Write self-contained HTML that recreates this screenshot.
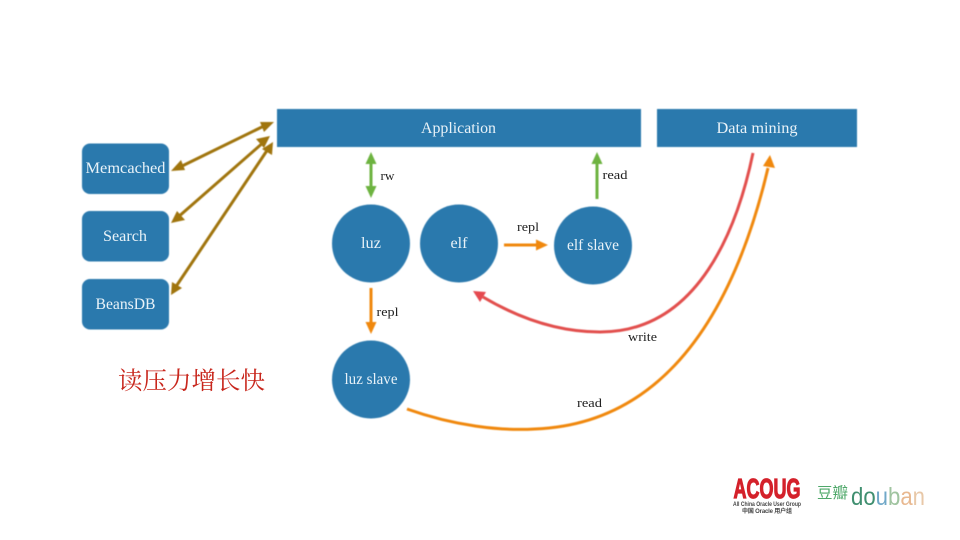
<!DOCTYPE html>
<html><head><meta charset="utf-8"><style>
html,body{margin:0;padding:0;background:#fff;width:960px;height:540px;overflow:hidden}
svg{display:block;font-family:"Liberation Serif","Noto Serif CJK SC",serif}
.w{fill:#e8f2f8;font-size:15.5px;text-anchor:middle}
.k{fill:#222;font-size:12.5px;text-anchor:middle}
.b{fill:#2b79ad}
</style></head><body>
<svg width="960" height="540" viewBox="0 0 960 540" xmlns="http://www.w3.org/2000/svg">
<defs>
<filter id="bl" x="-10%" y="-10%" width="120%" height="120%"><feGaussianBlur stdDeviation="0.4"/></filter>
<filter id="t" x="-10%" y="-30%" width="120%" height="160%"><feGaussianBlur stdDeviation="0.3"/></filter>
</defs>
<g filter="url(#bl)">
<rect class="b" x="82" y="143.500" width="87" height="50.500" rx="8"/>
<rect class="b" x="82" y="211" width="87" height="50.500" rx="8"/>
<rect class="b" x="82" y="279" width="87" height="50.500" rx="8"/>
<rect class="b" x="277" y="109" width="364" height="38"/>
<rect class="b" x="657" y="109" width="200" height="38"/>
<circle class="b" cx="371" cy="243.500" r="39"/>
<circle class="b" cx="459" cy="243.500" r="39"/>
<circle class="b" cx="593" cy="245.500" r="39"/>
<circle class="b" cx="371" cy="379.500" r="39"/>

<g stroke="#a0750f" stroke-width="3" fill="none">
<line x1="178" y1="168" x2="266" y2="125"/>
<line x1="177" y1="218" x2="265" y2="141"/>
<line x1="175" y1="288" x2="268" y2="149"/>
</g>
<g fill="#a0750f">
<polygon points="171,171 181,160 185,170"/>
<polygon points="274,122 264,132 260,122"/>
<polygon points="171,223 177,211 185,220"/>
<polygon points="270,136 264,148 256,139"/>
<polygon points="171,295 172,282 182,288"/>
<polygon points="273,142 272,155 262,149"/>
</g>

<g stroke="#6db33f" stroke-width="3" fill="none">
<line x1="371" y1="160" x2="371" y2="190"/>
<line x1="597" y1="160" x2="597" y2="199"/>
</g>
<g fill="#6db33f">
<polygon points="371,152 376.500,164 365.500,164"/>
<polygon points="371,198 376.500,186 365.500,186"/>
<polygon points="597,152 602.500,164 591.500,164"/>
</g>

<g stroke="#f0880f" stroke-width="3" fill="none">
<line x1="504" y1="245" x2="540" y2="245"/>
<line x1="371" y1="288" x2="371" y2="325"/>
<path d="M407 409 C455 426 500 431 535 429 C640 425 725 350 768 168"/>
</g>
<g fill="#f0880f">
<polygon points="548,245 536,239.500 536,250.500"/>
<polygon points="371,334 365.500,322 376.500,322"/>
<polygon points="770,155 775,168 763,166"/>
</g>

<path d="M753 153 C738 225 700 332 600 332 C555 332 515 316 483 297" stroke="#e2504e" stroke-width="3" fill="none"/>
<polygon points="473,291 486,292 480,302" fill="#e5484f"/>
</g>

<g filter="url(#t)">
<text class="w" x="125.500" y="173" textLength="80" lengthAdjust="spacingAndGlyphs">Memcached</text>
<text class="w" x="125" y="241" textLength="44" lengthAdjust="spacingAndGlyphs">Search</text>
<text class="w" x="125.500" y="309" textLength="60" lengthAdjust="spacingAndGlyphs">BeansDB</text>
<text class="w" x="458.500" y="133" textLength="75" lengthAdjust="spacingAndGlyphs">Application</text>
<text class="w" x="757" y="133" textLength="81" lengthAdjust="spacingAndGlyphs">Data mining</text>
<text class="w" x="371" y="248" textLength="20" lengthAdjust="spacingAndGlyphs">luz</text>
<text class="w" x="459" y="248" textLength="17" lengthAdjust="spacingAndGlyphs">elf</text>
<text class="w" x="593" y="250" textLength="52" lengthAdjust="spacingAndGlyphs">elf slave</text>
<text class="w" x="371" y="384" textLength="53" lengthAdjust="spacingAndGlyphs">luz slave</text>

<text class="k" x="387.500" y="180" textLength="14" lengthAdjust="spacingAndGlyphs">rw</text>
<text class="k" x="615" y="179" textLength="25" lengthAdjust="spacingAndGlyphs">read</text>
<text class="k" x="528" y="231" textLength="22" lengthAdjust="spacingAndGlyphs">repl</text>
<text class="k" x="387.500" y="316" textLength="22" lengthAdjust="spacingAndGlyphs">repl</text>
<text class="k" x="642.500" y="341" textLength="29" lengthAdjust="spacingAndGlyphs">write</text>
<text class="k" x="589.500" y="407" textLength="25" lengthAdjust="spacingAndGlyphs">read</text>

<text x="118" y="389" fill="#c8281e" font-size="24.500" style="font-family:'Noto Serif CJK SC',serif">读压力增长快</text>

<text x="767" y="498" text-anchor="middle" fill="#d4202c" stroke="#d4202c" stroke-width="1.200" font-size="28" font-weight="bold" textLength="67" lengthAdjust="spacingAndGlyphs" style="font-family:'Liberation Sans',sans-serif">ACOUG</text>
<text x="767" y="506" text-anchor="middle" fill="#444" font-size="6" font-weight="bold" textLength="68" lengthAdjust="spacingAndGlyphs" style="font-family:'Liberation Sans',sans-serif">All China Oracle User Group</text>
<text x="767" y="513" text-anchor="middle" fill="#444" font-size="6" font-weight="bold" textLength="50" style="font-family:'Liberation Sans','Noto Sans CJK SC',sans-serif">中国 Oracle 用户组</text>
<text x="817" y="498" fill="#4fa86a" font-size="15.500" style="font-family:'Noto Sans CJK SC',sans-serif">豆瓣</text>
<text x="851" y="505" font-size="25" textLength="74" lengthAdjust="spacingAndGlyphs" style="font-family:'Liberation Sans',sans-serif"><tspan fill="#3f8f6f">do</tspan><tspan fill="#6fa8c8">u</tspan><tspan fill="#a0c4a0">b</tspan><tspan fill="#e8b890">a</tspan><tspan fill="#e8c8a8">n</tspan></text>
</g>
</svg>
</body></html>
